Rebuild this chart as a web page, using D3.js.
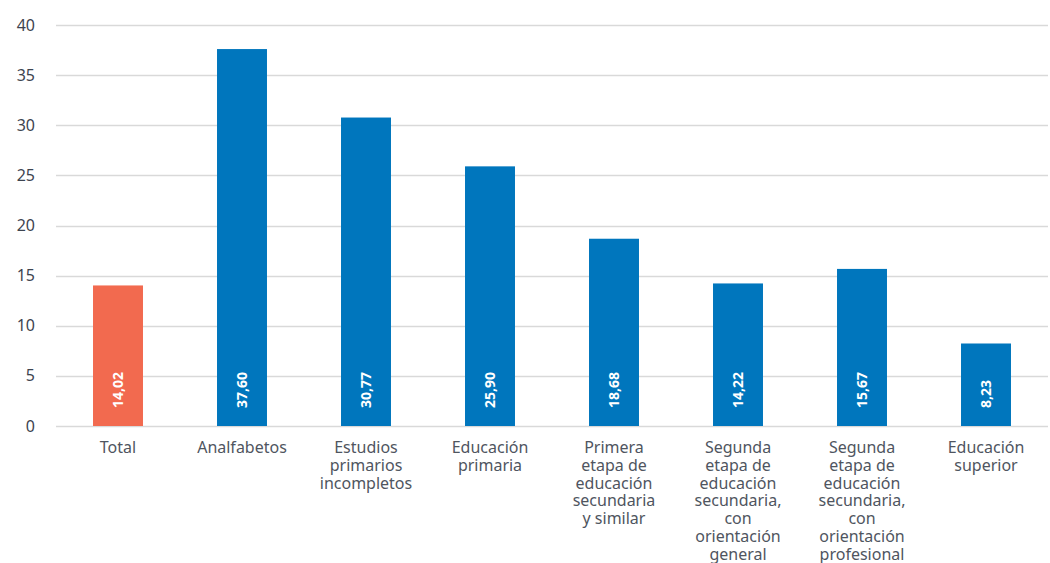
<!DOCTYPE html>
<html lang="es">
<head>
<meta charset="utf-8">
<title>Tasa por nivel de estudios</title>
<script src="https://d3js.org/d3.v7.min.js"></script>
<style>
  body { margin: 0; background: #fff; }
  svg { display: block; font-family: "Noto Sans", "Open Sans", sans-serif; }
  .ytick { font-size: 16px; fill: #3d4450; }
  .cat { font-size: 16px; fill: #4f5560; }
  .val { font-size: 14px; font-weight: bold; fill: #fff; }
</style>
</head>
<body>
<svg width="1050" height="563"></svg>
<script>
// categories (each label split into lines as in the picture)
const categories = [
  ["Total"],
  ["Analfabetos"],
  ["Estudios", "primarios", "incompletos"],
  ["Educación", "primaria"],
  ["Primera", "etapa de", "educación", "secundaria", "y similar"],
  ["Segunda", "etapa de", "educación", "secundaria,", "con", "orientación", "general"],
  ["Segunda", "etapa de", "educación", "secundaria,", "con", "orientación", "profesional"],
  ["Educación", "superior"]
];
const values = [14.02, 37.60, 30.77, 25.90, 18.68, 14.22, 15.67, 8.23];
const yTicks = [0, 5, 10, 15, 20, 25, 30, 35, 40];

const svg = d3.select("svg");
const keys = categories.map(c => c.join(" "));

const x = d3.scaleBand()
  .domain(keys)
  .range([56, 1048])
  .paddingInner(0.597)
  .paddingOuter(0.2985);

const y = d3.scaleLinear()
  .domain([0, 40])
  .range([426, 25]);

// gridlines
svg.append("g")
  .selectAll("line")
  .data(yTicks)
  .join("line")
  .attr("x1", 56)
  .attr("x2", 1048)
  .attr("y1", d => Math.round(y(d)) + 0.5)
  .attr("y2", d => Math.round(y(d)) + 0.5)
  .attr("stroke", "#d9d9d9")
  .attr("stroke-width", 1.5);

// y tick labels
svg.append("g")
  .selectAll("text")
  .data(yTicks)
  .join("text")
  .attr("class", "ytick")
  .attr("x", 35)
  .attr("y", d => y(d))
  .attr("dy", "0.35em")
  .attr("text-anchor", "end")
  .text(d => d);

// bars
svg.append("g")
  .selectAll("rect")
  .data(values)
  .join("rect")
  .attr("x", (d, i) => x(keys[i]))
  .attr("width", x.bandwidth())
  .attr("y", d => y(d))
  .attr("height", d => y(0) - y(d))
  .attr("fill", (d, i) => i === 0 ? "#f26a4f" : "#0076bd");

// value labels (rotated, inside bars)
svg.append("g")
  .selectAll("text")
  .data(values)
  .join("text")
  .attr("class", "val")
  .attr("transform", (d, i) => "translate(" + (x(keys[i]) + x.bandwidth() / 2) + "," + (y(0) - 18) + ") rotate(-90)")
  .attr("dy", "0.35em")
  .attr("text-anchor", "start")
  .text(d => d.toFixed(2).replace(".", ","));

// category labels
const cat = svg.append("g")
  .selectAll("text")
  .data(categories)
  .join("text")
  .attr("class", "cat")
  .attr("text-anchor", "middle")
  .attr("x", (d, i) => x(keys[i]) + x.bandwidth() / 2)
  .attr("y", 453);

cat.selectAll("tspan")
  .data(d => d)
  .join("tspan")
  .attr("x", function() { return d3.select(this.parentNode).attr("x"); })
  .attr("dy", (d, i) => i === 0 ? 0 : 17.8)
  .text(d => d);
</script>
</body>
</html>
